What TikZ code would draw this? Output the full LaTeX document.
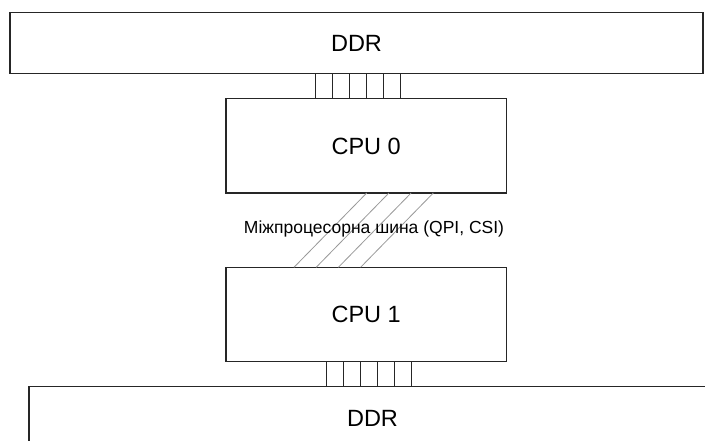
\documentclass[tikz,border=0pt]{standalone}
\usepackage{fontspec}
\setmainfont{Liberation Sans}
\begin{document}
\begin{tikzpicture}[x=1pt,y=-1pt,
  boxst/.style={draw=black!85,line width=1.2pt},
  pin/.style={draw=black!85,line width=0.9pt},
  qpi/.style={draw=black!40,line width=0.8pt},
  big/.style={font=\fontsize{23.5}{26}\selectfont},
  small/.style={font=\fontsize{17.5}{20}\selectfont}]
\clip (0,0) rectangle (705,441);
\fill[white] (0,0) rectangle (705,441);
% boxes
\draw[boxst] (10,12.5) rectangle (703,73.5);
\node[big] (ddr0) at (356.5,43) {DDR};
\draw[boxst] (226,98.7) rectangle (506.5,193);
\node[big] (cpu0) at (366.2,146) {CPU 0};
\draw[boxst] (226,267.3) rectangle (506.5,361.7);
\node[big] (cpu1) at (366.2,314.5) {CPU 1};
\draw[boxst] (29,386.7) rectangle (716,450);
\node[big] (ddr1) at (372.5,418) {DDR};
% top bus
\foreach \i in {0,...,5} {
  \coordinate (ta\i) at ({315.7+17*\i},73.5);
  \coordinate (tb\i) at ({315.7+17*\i},98.7);
  \draw[pin] (ta\i) -- (tb\i);
}
% bottom bus
\foreach \i in {0,...,5} {
  \coordinate (ba\i) at ({326.5+16.9*\i},361.7);
  \coordinate (bb\i) at ({326.5+16.9*\i},386.7);
  \draw[pin] (ba\i) -- (bb\i);
}
% QPI lines
\foreach \i in {0,...,3} {
  \coordinate (qa\i) at ({366.7+22.2*\i},193);
  \coordinate (qb\i) at ({294+22.2*\i},267.3);
  \draw[qpi] (qa\i) -- (qb\i);
}
\node[small] (bus) at (374,228.5) {Міжпроцесорна шина (QPI, CSI)};
\end{tikzpicture}
\end{document}
